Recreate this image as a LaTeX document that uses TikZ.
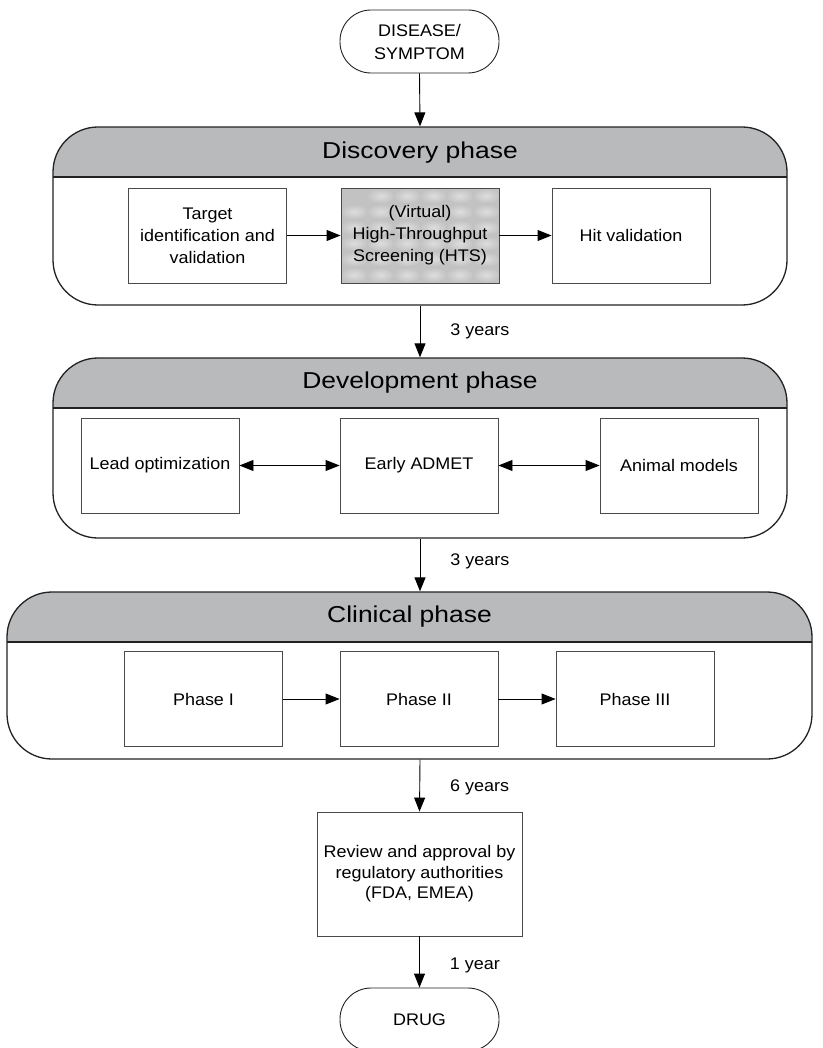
\documentclass[tikz,border=0pt]{standalone}
\usepackage{fontspec}
\setmainfont[FakeStretch=1.07]{Liberation Sans}
\newfontfamily\titlefont[FakeStretch=1.15]{Liberation Sans}
\usetikzlibrary{arrows.meta,calc}

\definecolor{headgray}{HTML}{B9BABC}
\definecolor{panelline}{HTML}{222222}
\definecolor{boxline}{HTML}{4A4A4A}
\definecolor{htsgray}{HTML}{C2C2C2}

\tikzset{
  body/.style={font=\fontsize{16.8}{22}\selectfont},
  stepbox/.style={draw=boxline, line width=0.9pt, fill=white,
    minimum width=158pt, minimum height=95pt, align=center, inner sep=2pt, body},
  terminal/.style={draw=panelline, line width=0.9pt, rounded corners=31pt, fill=white,
    minimum width=159pt, minimum height=63pt, align=center, body},
  panel/.style={draw=panelline, line width=1.3pt, rounded corners=45pt, inner sep=0pt,
    path picture={
      \fill[headgray, sharp corners] (path picture bounding box.north west)
        rectangle ([yshift=-50pt]path picture bounding box.north east);
      \draw[panelline, line width=1.3pt, sharp corners]
        ([yshift=-50pt]path picture bounding box.north west) --
        ([yshift=-50pt]path picture bounding box.north east);
    }},
  phasetitle/.style={font=\titlefont\fontsize{23}{27}\selectfont, inner sep=0pt},
  hts/.style={stepbox, fill=htsgray,
    path picture={
      \foreach \i in {0,...,5}{\foreach \j in {0,...,5}{
        \shade[inner color=white!45!htsgray, outer color=htsgray]
          ($(path picture bounding box.north west)+(\i*26.4+13.2,\j*15.8+7.9)$)
          ellipse (14pt and 7.5pt);
      }}
    }},
  arr/.style={line width=0.9pt, -{Triangle[length=14pt,width=11pt]}},
  darr/.style={line width=0.9pt, {Triangle[length=14pt,width=11pt]}-{Triangle[length=14pt,width=11pt]}},
  yrs/.style={midway, anchor=west, xshift=30pt, inner sep=0pt, body},
}

\begin{document}
\begin{tikzpicture}[x=1pt, y=-1pt]
\useasboundingbox (0,0) rectangle (822,1048);

% start and end terminals
\node[terminal, font=\fontsize{16.8}{23}\selectfont] (dis) at (419.5,41.5) {DISEASE/\\SYMPTOM};
\node[terminal] (drug) at (419.5,1019.5) {DRUG};

% phase panels with grey headers
\node[panel, minimum width=734pt, minimum height=178pt] (disc) at (420,216) {};
\node[phasetitle] (disct) at ([yshift=-26pt]disc.north) {Discovery phase};

\node[panel, minimum width=734pt, minimum height=180pt] (dev) at (420,448) {};
\node[phasetitle] (devt) at ([yshift=-25pt]dev.north) {Development phase};

\node[panel, minimum width=805pt, minimum height=167pt] (clin) at (409.5,675.5) {};
\node[phasetitle] (clint) at ([yshift=-25pt]clin.north) {Clinical phase};

% discovery steps
\node[stepbox] (tgt) at (207.5,235.5) {Target\\identification and\\validation};
\node[hts] (scr) at (420,235.5) {(Virtual)\\High-Throughput\\Screening (HTS)};
\node[stepbox] (hit) at (631,235.5) {Hit validation};

% development steps
\node[stepbox] (lead) at (160,465.5) {Lead optimization};
\node[stepbox] (admet) at (419,465.5) {Early ADMET};
\node[stepbox] (anim) at (679,465.5) {Animal models};

% clinical steps
\node[stepbox] (p1) at (203.5,699) {Phase I};
\node[stepbox] (p2) at (419,699) {Phase II};
\node[stepbox] (p3) at (635,699) {Phase III};

% regulatory review
\node[stepbox, minimum width=205pt, minimum height=124pt, font=\fontsize{16.8}{20.5}\selectfont]
  (rev) at (419.5,874) {Review and approval by\\regulatory authorities\\(FDA, EMEA)};

% connectors inside the panels
\draw[arr] (tgt.east) -- (scr.west);
\draw[arr] (scr.east) -- (hit.west);
\draw[darr] (lead.east) -- (admet.west);
\draw[darr] (admet.east) -- (anim.west);
\draw[arr] (p1.east) -- (p2.west);
\draw[arr] (p2.east) -- (p3.west);

% main flow
\draw[arr] (dis.south) -- (disc.north);
\draw[arr] (disc.south) -- node[yrs] {3 years} (dev.north);
\draw[arr] (dev.south) -- node[yrs, yshift=4pt] {3 years} (dev.south |- clin.north);
\draw[arr] (dev.south |- clin.south) -- node[yrs, yshift=-2pt] {6 years} (rev.north);
\draw[arr] (rev.south) -- node[yrs, yshift=-3pt] {1 year} (drug.north);
\end{tikzpicture}
\end{document}
